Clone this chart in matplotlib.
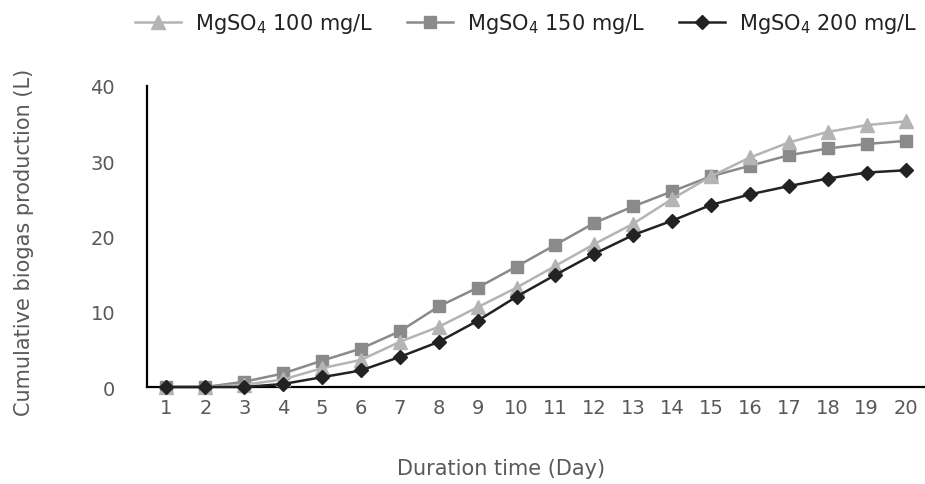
import matplotlib
matplotlib.use("Agg")
import matplotlib.pyplot as plt

days = list(range(1, 21))
mg100 = [0, 0, 0.3, 1.0, 2.5, 3.6, 6.0, 8.0, 10.6, 13.2, 16.1, 19.0, 21.7, 25.0, 28.0, 30.5, 32.5, 33.9, 34.8, 35.3]
mg150 = [0, 0, 0.7, 1.8, 3.5, 5.1, 7.4, 10.7, 13.2, 16.0, 18.9, 21.8, 24.0, 26.0, 28.0, 29.4, 30.8, 31.7, 32.3, 32.7]
mg200 = [0, 0, 0, 0.4, 1.3, 2.2, 4.0, 6.0, 8.8, 12.0, 14.9, 17.7, 20.2, 22.1, 24.2, 25.6, 26.7, 27.7, 28.5, 28.8]
labels = ["MgSO$_4$ 100 mg/L", "MgSO$_4$ 150 mg/L", "MgSO$_4$ 200 mg/L"]
yticks = [0, 10, 20, 30, 40]

plt.rcParams['font.family'] = ['DejaVu Sans']
plt.rcParams['mathtext.default'] = 'regular'

fig = plt.figure(figsize=(9.25, 4.85), dpi=100)
ax = fig.add_axes([147/925, 1-388/485, 1-147/925, (388-87)/485])

l1, = ax.plot(days, mg100, color='#b4b4b4', marker='^', markersize=10, lw=1.8, label=labels[0], zorder=3)
l2, = ax.plot(days, mg150, color='#8a8a8a', marker='s', markersize=9, lw=1.8, label=labels[1], zorder=2)
l3, = ax.plot(days, mg200, color='#222222', marker='D', markersize=7.5, lw=1.8, label=labels[2], zorder=4)

ax.set_xlim(0.5, 20.5)
ax.set_ylim(0, 40)
ax.set_xticks(days)
ax.set_yticks(yticks)
ax.spines['top'].set_visible(False)
ax.spines['right'].set_visible(False)
ax.spines['left'].set_linewidth(1.6)
ax.spines['bottom'].set_linewidth(1.6)
ax.spines['left'].set_color('black')
ax.spines['bottom'].set_color('black')
ax.tick_params(axis='both', length=0, labelsize=14, labelcolor='#595959')
ax.tick_params(axis='y', pad=23)
ax.tick_params(axis='x', pad=8)
ax.set_ylabel("Cumulative biogas production (L)", fontsize=15, color='#595959')
ax.set_xlabel("Duration time (Day)", fontsize=15, color='#595959')
ax.yaxis.set_label_coords(-0.145, 0.485)
ax.xaxis.set_label_coords(0.455, -0.236)
for l in (l1, l2, l3):
    l.set_clip_on(False)

fig.legend(handles=[l1, l2, l3], loc='upper left', bbox_to_anchor=(135/925, 0.975), ncol=3,
           frameon=False, fontsize=15, handlelength=2.2, handletextpad=0.7, columnspacing=1.6,
           borderpad=0, borderaxespad=0, labelcolor='#222222')

fig.savefig("out.png", dpi=100)
